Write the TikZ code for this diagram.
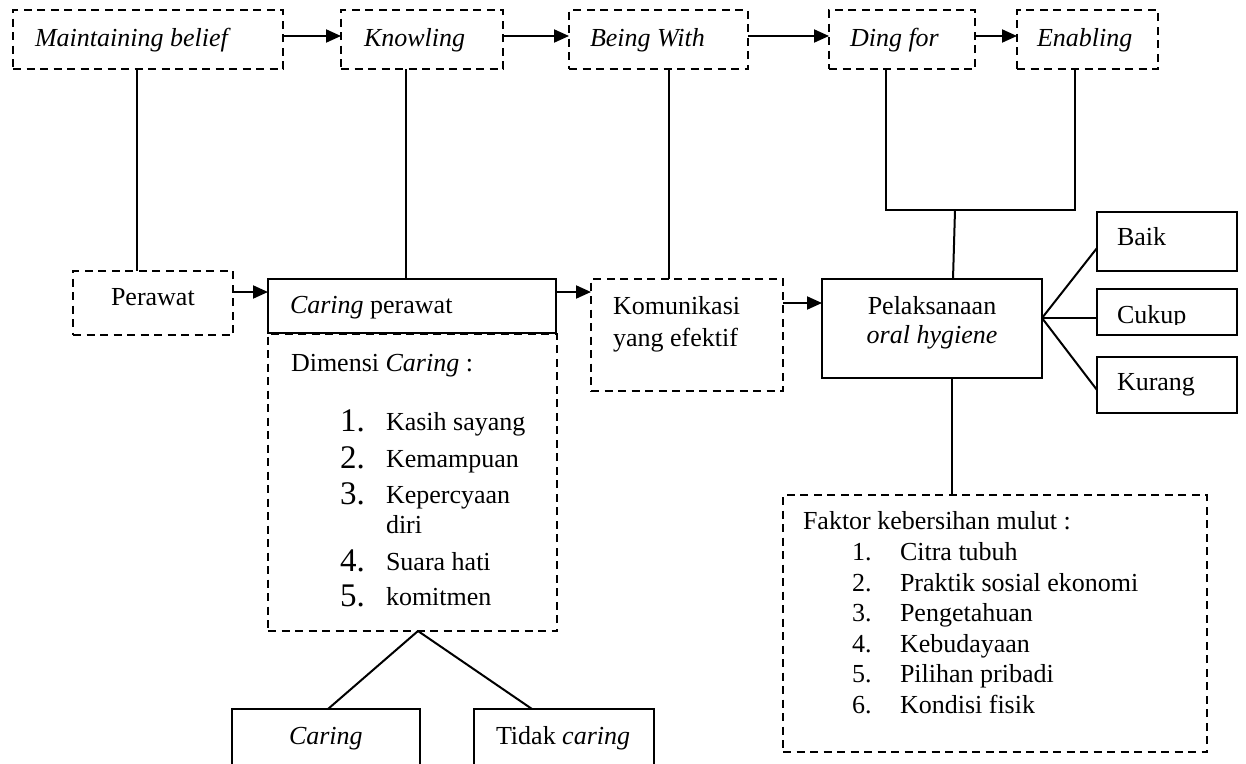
\documentclass[tikz,border=0pt]{standalone}
\usepackage{fontspec}
\setmainfont{Liberation Serif}
\usetikzlibrary{arrows.meta}
\begin{document}
\begin{tikzpicture}[x=1pt,y=-1pt,
  every node/.style={inner sep=0pt,outer sep=0pt},
  dbox/.style={draw,line width=2.8pt,dash pattern=on 8pt off 5.5pt,rectangle},
  sbox/.style={draw,line width=2.2pt,rectangle},
  txt/.style={anchor=base west,font=\fontsize{26}{30}\selectfont},
  ctxt/.style={anchor=base,font=\fontsize{26}{30}\selectfont},
  num/.style={anchor=base west,font=\fontsize{33}{36}\selectfont},
  conn/.style={line width=2pt},
  arr/.style={line width=2pt,-{Triangle[length=15pt,width=13pt]}}]
\clip (0,0) rectangle (1246,763);
\fill[white] (0,0) rectangle (1246,763);
% top row
\node[dbox,minimum width=270pt,minimum height=59pt] (mb) at (148,39.5) {};
\node[dbox,minimum width=162pt,minimum height=59pt] (kn) at (422,39.5) {};
\node[dbox,minimum width=179pt,minimum height=59pt] (bw) at (658.5,39.5) {};
\node[dbox,minimum width=146pt,minimum height=59pt] (df) at (902,39.5) {};
\node[dbox,minimum width=141pt,minimum height=59pt] (en) at (1087.5,39.5) {};
\node[txt] (tmb) at (35,46) {\itshape Maintaining belief};
\node[txt] (tkn) at (364,46) {\itshape Knowling};
\node[txt] (tbw) at (590,46) {\itshape Being With};
\node[txt] (tdf) at (850,46) {\itshape Ding for};
\node[txt] (ten) at (1037,46) {\itshape Enabling};
% middle row
\node[dbox,minimum width=160pt,minimum height=64pt] (pr) at (153,303) {};
\node[sbox,minimum width=288pt,minimum height=54pt] (cp) at (412,306) {};
\node[dbox,minimum width=289pt,minimum height=297pt] (dim) at (412.5,482.5) {};
\node[dbox,minimum width=192pt,minimum height=112pt] (kom) at (687,335) {};
\node[sbox,minimum width=220pt,minimum height=99pt] (pel) at (932,328.5) {};
\node[sbox,minimum width=140pt,minimum height=59pt] (baik) at (1167,241.5) {};
\node[sbox,minimum width=140pt,minimum height=46pt] (cukup) at (1167,312) {};
\node[sbox,minimum width=140pt,minimum height=56pt] (kurang) at (1167,385) {};
\node[dbox,minimum width=424pt,minimum height=257pt] (fak) at (995,623.5) {};
\node[sbox,minimum width=188pt,minimum height=71pt] (car) at (326,744.5) {};
\node[sbox,minimum width=180pt,minimum height=71pt] (tc) at (564,744.5) {};
% texts
\node[txt] (tpr) at (111,305) {Perawat};
\node[txt] (tcp) at (290,313) {\textit{Caring} perawat};
\node[txt] (tdim) at (291,371) {Dimensi \textit{Caring} :};
\node[num] (n1) at (340,431) {1.};
\node[num] (n2) at (340,468) {2.};
\node[num] (n3) at (340,504) {3.};
\node[num] (n4) at (340,571) {4.};
\node[num] (n5) at (340,606) {5.};
\node[txt] (d1) at (386,430) {Kasih sayang};
\node[txt] (d2) at (386,467) {Kemampuan};
\node[txt] (d3) at (386,503) {Kepercyaan};
\node[txt] (d3b) at (386,533) {diri};
\node[txt] (d4) at (386,570) {Suara hati};
\node[txt] (d5) at (386,605) {komitmen};
\node[txt] (tk1) at (613,314) {Komunikasi};
\node[txt] (tk2) at (613,346) {yang efektif};
\node[ctxt] (tp1) at (932,314) {Pelaksanaan};
\node[ctxt] (tp2) at (932,343) {\itshape oral hygiene};
\node[txt] (tbaik) at (1117,245) {Baik};
\begin{scope}
\clip (1097,289) rectangle (1237,324);
\node[txt] (tcukup) at (1117,323) {Cukup};
\end{scope}
\node[txt] (tkurang) at (1117,390) {Kurang};
\node[txt] (tfak) at (803,529) {Faktor kebersihan mulut :};
\node[txt] (f1n) at (852,560) {1.};
\node[txt] (f2n) at (852,591) {2.};
\node[txt] (f3n) at (852,621) {3.};
\node[txt] (f4n) at (852,652) {4.};
\node[txt] (f5n) at (852,682) {5.};
\node[txt] (f6n) at (852,713) {6.};
\node[txt] (f1) at (900,560) {Citra tubuh};
\node[txt] (f2) at (900,591) {Praktik sosial ekonomi};
\node[txt] (f3) at (900,621) {Pengetahuan};
\node[txt] (f4) at (900,652) {Kebudayaan};
\node[txt] (f5) at (900,682) {Pilihan pribadi};
\node[txt] (f6) at (900,713) {Kondisi fisik};
\node[txt] (tcar) at (289,744) {\itshape Caring};
\node[txt] (ttc) at (496,744) {Tidak \textit{caring}};
% top arrows
\draw[arr] ([yshift=3.5pt]mb.east) -- ([yshift=3.5pt]kn.west);
\draw[arr] ([yshift=3.5pt]kn.east) -- ([yshift=3.5pt]bw.west);
\draw[arr] ([yshift=3.5pt]bw.east) -- ([yshift=3.5pt]df.west);
\draw[arr] ([yshift=3.5pt]df.east) -- ([yshift=3.5pt]en.west);
% middle arrows
\draw[arr] ([yshift=11pt]pr.east) -- ([yshift=14pt]cp.west);
\draw[arr] ([yshift=14pt]cp.east) -- ([yshift=43pt]kom.west);
\draw[arr] ([yshift=32pt]kom.east) -- ([yshift=25.5pt]pel.west);
% verticals
\draw[conn] ([xshift=-11pt]mb.south) -- ([xshift=-16pt]pr.north);
\draw[conn] ([xshift=-16pt]kn.south) -- ([xshift=-6pt]cp.north);
\draw[conn] ([xshift=10.5pt]bw.south) -- ([xshift=-18pt]kom.north);
\coordinate (bl) at (886,210);
\coordinate (brr) at (1075,210);
\coordinate (bm) at (955,210);
\draw[conn] ([xshift=-16pt]df.south) -- (bl) -- (brr) -- ([xshift=-12.5pt]en.south);
\draw[conn] (bm) -- ([xshift=21pt]pel.north);
% outcome lines
\draw[conn] ([yshift=10.5pt]pel.east) -- ([yshift=-6.5pt]baik.west);
\draw[conn] ([yshift=10.5pt]pel.east) -- ([yshift=-6pt]cukup.west);
\draw[conn] ([yshift=10.5pt]pel.east) -- ([yshift=-5pt]kurang.west);
\draw[conn] ([xshift=20pt]pel.south) -- ([xshift=-43pt]fak.north);
\draw[conn] ([xshift=5.5pt]dim.south) -- ([xshift=2pt]car.north);
\draw[conn] ([xshift=5.5pt]dim.south) -- ([xshift=-32pt]tc.north);
\end{tikzpicture}
\end{document}
